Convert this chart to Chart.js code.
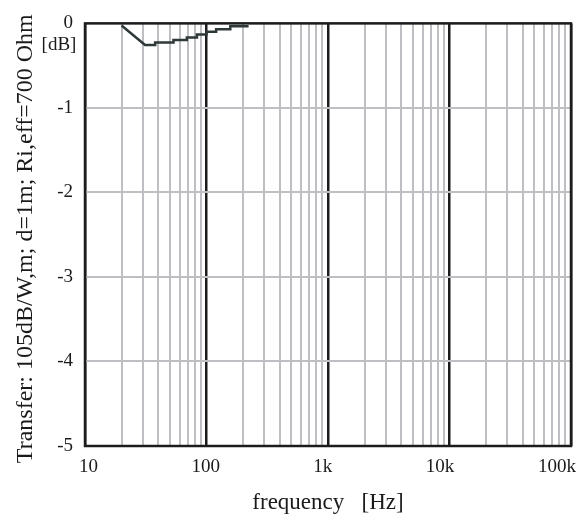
<!DOCTYPE html>
<html>
<head>
<meta charset="utf-8">
<script src="https://cdn.jsdelivr.net/npm/chart.js@4.4.1/dist/chart.umd.min.js"></script>
<style>
html,body{margin:0;padding:0;background:#fff;}
#wrap{width:585px;height:516px;}
</style>
</head>
<body>
<div id="wrap"><canvas id="c" width="585" height="516"></canvas></div>
<script>
// ---- data ----
const freqHz = [20, 31.2, 37.8, 37.8, 53.5, 53.5, 68.9, 68.9, 83.4, 83.4, 100, 100, 120, 120, 157, 157, 222];
const transferDb = [-0.025, -0.256, -0.256, -0.226, -0.226, -0.197, -0.197, -0.167, -0.167, -0.132, -0.132, -0.10, -0.10, -0.068, -0.068, -0.033, -0.033];
const xTickLabels = ['10', '100', '1k', '10k', '100k'];
const xDecades = [10, 100, 1000, 10000, 100000];
const yTicks = [0, -1, -2, -3, -4, -5];
const yTitle = 'Transfer: 105dB/W,m; d=1m; Ri,eff=700 Ohm';
const xTitle = 'frequency   [Hz]';
const yUnit = '[dB]';

const gridValues = [];
for (let d = 0; d < xDecades.length - 1; d++) {
  for (let m = 1; m <= 9; m++) gridValues.push(xDecades[d] * m);
}
gridValues.push(xDecades[xDecades.length - 1]);

function isDecade(v) {
  const l = Math.log10(v);
  return Math.abs(l - Math.round(l)) < 1e-6;
}

const SERIF = '"Liberation Serif", "DejaVu Serif", serif';
const TEXT = '#1a1a1a';

const textPlugin = {
  id: 'texts',
  afterDraw(chart) {
    const ctx = chart.ctx;
    const a = chart.chartArea;
    const xs = chart.scales.x;
    ctx.save();
    // frame
    ctx.strokeStyle = '#1c1c1c';
    ctx.lineWidth = 2.5;
    ctx.strokeRect(a.left, a.top, a.right - a.left, a.bottom - a.top);
    ctx.fillStyle = TEXT;
    // x tick labels (spread slightly inside the decade lines)
    ctx.font = '19px ' + SERIF;
    ctx.textAlign = 'center';
    ctx.textBaseline = 'middle';
    const w = a.right - a.left;
    xDecades.forEach((v, i) => {
      const px = xs.getPixelForValue(v);
      const lx = a.left + 3.5 + (px - a.left) * 0.964;
      ctx.fillText(xTickLabels[i], lx, a.bottom + 21);
    });
    // x title
    ctx.font = '23px ' + SERIF;
    ctx.fillText(xTitle, (a.left + a.right) / 2, a.bottom + 57);
    // unit label
    ctx.font = '19px ' + SERIF;
    ctx.fillText(yUnit, 59, 45);
    // y title
    ctx.translate(26, (a.top + a.bottom) / 2 + 4);
    ctx.rotate(-Math.PI / 2);
    ctx.font = '24px ' + SERIF;
    ctx.fillText(yTitle, 0, 0);
    ctx.restore();
  }
};

new Chart(document.getElementById('c'), {
  type: 'line',
  data: {
    datasets: [{
      data: freqHz.map((f, i) => ({ x: f, y: transferDb[i] })),
      borderColor: '#2e3838',
      borderWidth: 2.5,
      pointRadius: 0,
      tension: 0,
      fill: false
    }]
  },
  options: {
    responsive: false,
    animation: false,
    devicePixelRatio: 1,
    layout: { padding: { left: 0, right: 14, top: 20, bottom: 0 } },
    plugins: { legend: { display: false }, tooltip: { enabled: false } },
    scales: {
      x: {
        type: 'logarithmic',
        min: 10,
        max: 100000,
        afterBuildTicks(scale) {
          scale.ticks = gridValues.map(v => ({ value: v }));
        },
        afterFit(scale) { scale.height = 70; },
        ticks: { display: false },
        border: { display: false },
        grid: {
          drawTicks: false,
          color: ctx => (ctx.tick && isDecade(ctx.tick.value)) ? '#1c1c1c' : '#bfbfc3',
          lineWidth: ctx => (ctx.tick && isDecade(ctx.tick.value)) ? 2.5 : 2
        }
      },
      y: {
        type: 'linear',
        min: -5,
        max: 0,
        afterBuildTicks(scale) {
          scale.ticks = yTicks.map(v => ({ value: v }));
        },
        afterFit(scale) { scale.width = 85; },
        ticks: {
          padding: 12,
          color: TEXT,
          font: { family: SERIF, size: 19 },
          callback: v => String(v)
        },
        border: { display: false },
        grid: { drawTicks: false, color: '#bfbfc3', lineWidth: 2 }
      }
    }
  },
  plugins: [textPlugin]
});
</script>
</body>
</html>
